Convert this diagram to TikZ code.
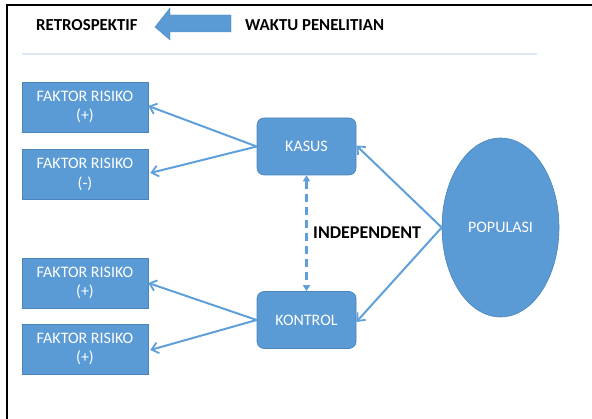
\documentclass[tikz,border=0pt]{standalone}
\usepackage{fontspec}
\setmainfont{Carlito}
\usetikzlibrary{arrows.meta,shapes.geometric}
\definecolor{boxblue}{HTML}{5B9BD5}
\definecolor{edgeblue}{HTML}{4A84BA}
\definecolor{lineblue}{HTML}{5FA0DA}
\definecolor{paleline}{HTML}{DDE8F4}
\tikzset{
  faktor/.style={rectangle, fill=boxblue, draw=edgeblue, line width=0.6pt, minimum width=126pt, minimum height=50pt, inner sep=0pt, text=white, align=center, font=\fontsize{16}{19.5}\selectfont},
  groupbox/.style={rectangle, rounded corners=7pt, fill=boxblue, draw=edgeblue, line width=0.6pt, minimum width=99pt, minimum height=57pt, inner sep=0pt, text=white, font=\fontsize{16}{19}\selectfont},
  conn/.style={draw=lineblue, line width=2pt, -{Straight Barb[length=6.5pt,width=11pt,line width=1.8pt]}},
  head/.style={font=\bfseries\fontsize{16.8}{19}\selectfont, text=black, inner sep=0pt}
}
\begin{document}
\begin{tikzpicture}[x=1pt,y=-1pt]
\useasboundingbox (0,0) rectangle (592,419);
% frame
\draw[line width=2.4pt] (593,5) -- (7,5) -- (7,420);
% header
\node[head, anchor=west] (retro) at (36,25) {RETROSPEKTIF};
\node[head, anchor=west] (waktu) at (245,25) {WAKTU PENELITIAN};
\fill[boxblue, draw=edgeblue, line width=0.4pt] (155,27) -- (170,8) -- (170,15) -- (231,15) -- (231,32) -- (170,32) -- (170,40) -- cycle;
\draw[paleline, line width=2.5pt] (22,54) -- (537,54);
% boxes
\node[faktor] (f1) at (85,107) {FAKTOR RISIKO\\(+)};
\node[faktor] (f2) at (85,174.5) {FAKTOR RISIKO\\(-)};
\node[faktor] (f3) at (85,283) {FAKTOR RISIKO\\(+)};
\node[faktor] (f4) at (85,349) {FAKTOR RISIKO\\(+)};
\node[groupbox] (kasus) at (306.5,146.5) {KASUS};
\node[groupbox] (kontrol) at (306.5,320) {KONTROL};
\node[ellipse, fill=boxblue, draw=edgeblue, line width=0.6pt, minimum width=117pt, minimum height=179pt, inner sep=0pt, text=white, font=\fontsize{16}{19}\selectfont] (pop) at (500.5,227.5) {POPULASI};
\node[font=\bfseries\fontsize{18}{21}\selectfont, text=black, inner sep=0pt, anchor=west] (indep) at (313,233) {INDEPENDENT};
% connectors
\draw[conn] (kasus.west) -- ([yshift=1pt]f1.east);
\draw[conn] (kasus.west) -- ([xshift=2pt,yshift=1.5pt]f2.east);
\draw[conn] (kontrol.west) -- ([yshift=0pt]f3.east);
\draw[conn] (kontrol.west) -- ([xshift=2pt,yshift=-1pt]f4.east);
\draw[conn] (pop.west) -- ([yshift=1pt]kasus.east);
\draw[conn] (pop.west) -- ([yshift=-2pt]kontrol.east);
\draw[draw=lineblue, line width=2.4pt, dash pattern=on 8pt off 5pt, {Triangle[length=6pt,width=7pt]}-{Triangle[length=6pt,width=7pt]}] (kasus.south) -- (kontrol.north);
\end{tikzpicture}
\end{document}
